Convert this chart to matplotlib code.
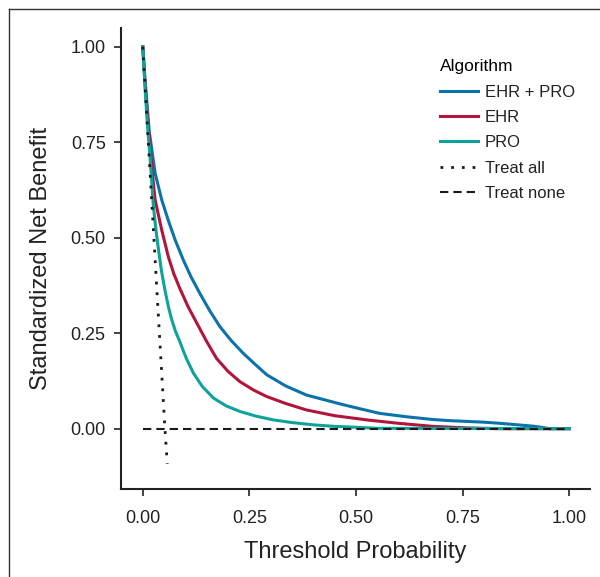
import numpy as np
import matplotlib
matplotlib.use("Agg")
import matplotlib.pyplot as plt
from matplotlib.lines import Line2D

plt.rcParams['font.family'] = ['Liberation Sans', 'DejaVu Sans']

# threshold probabilities / standardized net benefit
ehr_pro_x = [0.0, 0.005, 0.010, 0.015, 0.029, 0.0445, 0.060, 0.076, 0.095, 0.113, 0.134,
             0.157, 0.181, 0.208, 0.236, 0.262, 0.291, 0.335, 0.384, 0.425, 0.462,
             0.510, 0.556, 0.620, 0.680, 0.720, 0.760, 0.800, 0.838, 0.880, 0.920,
             0.955, 1.0]
ehr_pro_y = [1.0, 0.92, 0.85, 0.78, 0.669, 0.599, 0.545, 0.494, 0.442, 0.398, 0.354,
             0.309, 0.267, 0.230, 0.197, 0.170, 0.141, 0.112, 0.088, 0.076, 0.065,
             0.052, 0.040, 0.031, 0.024, 0.021, 0.019, 0.017, 0.014, 0.010, 0.006,
             0.0, 0.0]

ehr_x = [0.0, 0.005, 0.010, 0.021, 0.029, 0.0445, 0.060, 0.073, 0.087, 0.106, 0.127,
         0.150, 0.173, 0.200, 0.228, 0.260, 0.291, 0.335, 0.384, 0.450, 0.525,
         0.600, 0.681, 0.760, 0.838, 1.0]
ehr_y = [1.0, 0.91, 0.83, 0.686, 0.599, 0.520, 0.450, 0.405, 0.367, 0.320, 0.276,
         0.228, 0.184, 0.150, 0.123, 0.101, 0.084, 0.066, 0.049, 0.034, 0.023,
         0.014, 0.006, 0.002, 0.0, 0.0]

pro_x = [0.0, 0.005, 0.010, 0.017, 0.025, 0.031, 0.037, 0.044, 0.052, 0.060, 0.068,
         0.077, 0.087, 0.095, 0.103, 0.119, 0.140, 0.166, 0.195, 0.228, 0.265,
         0.306, 0.350, 0.400, 0.450, 0.494, 0.550, 1.0]
pro_y = [1.0, 0.90, 0.81, 0.712, 0.581, 0.520, 0.468, 0.412, 0.363, 0.320, 0.285,
         0.254, 0.228, 0.204, 0.182, 0.145, 0.110, 0.080, 0.060, 0.045, 0.033,
         0.023, 0.016, 0.010, 0.006, 0.004, 0.001, 0.0]

treat_all_x = [0.0, 0.052, 0.0575]
treat_all_y = [1.0, 0.0, -0.092]

treat_none_x = [0.0, 1.0]
treat_none_y = [0.0, 0.0]

series = ["EHR + PRO", "EHR", "PRO"]
colors = ["#0b72ab", "#b0163c", "#0ea39a"]
ticks = [0.0, 0.25, 0.5, 0.75, 1.0]
tick_labels = ["0.00", "0.25", "0.50", "0.75", "1.00"]

fig = plt.figure(figsize=(6.0, 5.77), dpi=100)
ax = fig.add_axes([0.2017, 0.1525, 0.7817, 0.7995])

for xs, ys, c, lab in zip([ehr_pro_x, ehr_x, pro_x], [ehr_pro_y, ehr_y, pro_y], colors, series):
    ax.plot(xs, ys, color=c, lw=2.2, label=lab, zorder=2)

ax.plot(treat_all_x, treat_all_y, color='#1a1a1a', lw=2.0, linestyle=(0, (1, 2.85)),
        dash_capstyle='butt', label="Treat all", zorder=3)
ax.plot(treat_none_x, treat_none_y, color='#1a1a1a', lw=1.5, linestyle=(0, (4, 2.4)),
        label="Treat none", zorder=3)

ax.set_xlim(-0.051, 1.049)
ax.set_ylim(-0.158, 1.05)
ax.set_xticks(ticks)
ax.set_xticklabels(tick_labels)
ax.set_yticks(ticks)
ax.set_yticklabels(tick_labels)
ax.tick_params(axis='both', labelsize=13, length=5, width=1.2, color='#222222',
               labelcolor='#222222')
ax.tick_params(axis='x', pad=10)
ax.tick_params(axis='y', pad=6)

for s in ['top', 'right']:
    ax.spines[s].set_visible(False)
for s in ['left', 'bottom']:
    ax.spines[s].set_linewidth(1.5)
    ax.spines[s].set_color('#222222')

ax.set_xlabel("Threshold Probability", fontsize=17, color='#222222', labelpad=10)
ax.set_ylabel("Standardized Net Benefit", fontsize=17, color='#222222', labelpad=13)

leg = ax.legend(loc='upper left', bbox_to_anchor=(0.6475, 0.964), frameon=False,
                title="Algorithm", alignment='left', fontsize=12, title_fontsize=12.5,
                handlelength=2.3, handletextpad=0.42, labelspacing=0.62)
for t in leg.get_texts():
    t.set_color('#222222')

# outer frame around the panel
fig.add_artist(Line2D([9 / 600, 9 / 600], [1 - 9 / 577, 0], transform=fig.transFigure,
                      color='#333333', lw=1.0))
fig.add_artist(Line2D([9 / 600, 1], [1 - 9 / 577, 1 - 9 / 577], transform=fig.transFigure,
                      color='#333333', lw=1.0))

fig.savefig("out.png", dpi=100)
